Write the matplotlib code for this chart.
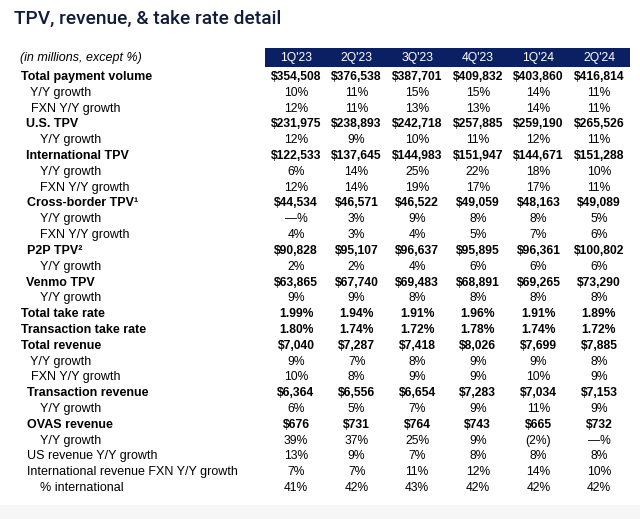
import matplotlib
matplotlib.use("Agg")
import matplotlib.pyplot as plt
from matplotlib.patches import Rectangle
import numpy as np

plt.rcParams['font.family'] = ['Liberation Sans', 'DejaVu Sans']

title = "TPV, revenue, & take rate detail"
subtitle = "(in millions, except %)"
quarters = ["1Q'23", "2Q'23", "3Q'23", "4Q'23", "1Q'24", "2Q'24"]

row_labels = [
    "Total payment volume", "Y/Y growth", "FXN Y/Y growth",
    "U.S. TPV", "Y/Y growth",
    "International TPV", "Y/Y growth", "FXN Y/Y growth",
    "Cross-border TPV\u00b9", "Y/Y growth", "FXN Y/Y growth",
    "P2P TPV\u00b2", "Y/Y growth",
    "Venmo TPV", "Y/Y growth",
    "Total take rate", "Transaction take rate",
    "Total revenue", "Y/Y growth", "FXN Y/Y growth",
    "Transaction revenue", "Y/Y growth",
    "OVAS revenue", "Y/Y growth",
    "US revenue Y/Y growth", "International revenue FXN Y/Y growth",
    "% international",
]

q1_23 = ["$354,508", "10%", "12%", "$231,975", "12%", "$122,533", "6%", "12%",
         "$44,534", "\u2014%", "4%", "$90,828", "2%", "$63,865", "9%",
         "1.99%", "1.80%", "$7,040", "9%", "10%", "$6,364", "6%",
         "$676", "39%", "13%", "7%", "41%"]
q2_23 = ["$376,538", "11%", "11%", "$238,893", "9%", "$137,645", "14%", "14%",
         "$46,571", "3%", "3%", "$95,107", "2%", "$67,740", "9%",
         "1.94%", "1.74%", "$7,287", "7%", "8%", "$6,556", "5%",
         "$731", "37%", "9%", "7%", "42%"]
q3_23 = ["$387,701", "15%", "13%", "$242,718", "10%", "$144,983", "25%", "19%",
         "$46,522", "9%", "4%", "$96,637", "4%", "$69,483", "8%",
         "1.91%", "1.72%", "$7,418", "8%", "9%", "$6,654", "7%",
         "$764", "25%", "7%", "11%", "43%"]
q4_23 = ["$409,832", "15%", "13%", "$257,885", "11%", "$151,947", "22%", "17%",
         "$49,059", "8%", "5%", "$95,895", "6%", "$68,891", "8%",
         "1.96%", "1.78%", "$8,026", "9%", "9%", "$7,283", "9%",
         "$743", "9%", "8%", "12%", "42%"]
q1_24 = ["$403,860", "14%", "14%", "$259,190", "12%", "$144,671", "18%", "17%",
         "$48,163", "8%", "7%", "$96,361", "6%", "$69,265", "8%",
         "1.91%", "1.74%", "$7,699", "9%", "10%", "$7,034", "11%",
         "$665", "(2%)", "8%", "14%", "42%"]
q2_24 = ["$416,814", "11%", "11%", "$265,526", "11%", "$151,288", "10%", "11%",
         "$49,089", "5%", "6%", "$100,802", "6%", "$73,290", "8%",
         "1.89%", "1.72%", "$7,885", "8%", "9%", "$7,153", "9%",
         "$732", "\u2014%", "8%", "10%", "42%"]
columns = [q1_23, q2_23, q3_23, q4_23, q1_24, q2_24]

# styling (not data)
indent_px = [21, 30, 31, 26, 40, 26, 40, 40, 27, 40, 40, 27, 40, 26, 40,
             21, 21, 21, 30, 31, 27, 40, 27, 40, 27, 27, 40]
bold_rows = {0, 3, 5, 8, 11, 13, 15, 16, 17, 20, 22}

W, H = 640, 519
fig = plt.figure(figsize=(W / 100, H / 100), dpi=100)
ax = fig.add_axes([0, 0, 1, 1])
ax.set_xlim(0, W)
ax.set_ylim(H, 0)
ax.axis('off')

navy = '#0b1f63'
ink = '#000000'
fs_lab = 9.0
fs_val = 8.7

ax.text(14, 19, title, fontsize=13.8, color='#101c3c', va='center', ha='left',
        family=['Roboto', 'DejaVu Sans'], fontweight='medium')
ax.text(20, 58, subtitle, fontsize=fs_lab, style='italic', color=ink,
        va='center', ha='left')

col_x = np.linspace(296, 599, len(quarters))
ax.add_patch(Rectangle((265, 48), 365, 19, facecolor=navy, edgecolor='none'))
for x, q in zip(col_x, quarters):
    ax.text(x, 57.5, q, fontsize=fs_val, color='white', ha='center', va='center')

row_y = np.linspace(77, 488, len(row_labels))
for i, (lab, y) in enumerate(zip(row_labels, row_y)):
    w = 'bold' if i in bold_rows else 'normal'
    ax.text(indent_px[i], y, lab, fontsize=fs_lab, fontweight=w, color=ink,
            ha='left', va='center')
    for x, col in zip(col_x, columns):
        ax.text(x, y, col[i], fontsize=fs_val, fontweight=w, color=ink,
                ha='center', va='center')

ax.add_patch(Rectangle((0, 505), W, 14, facecolor='#f6f6f6', edgecolor='none'))

fig.savefig('out.png', dpi=100)
